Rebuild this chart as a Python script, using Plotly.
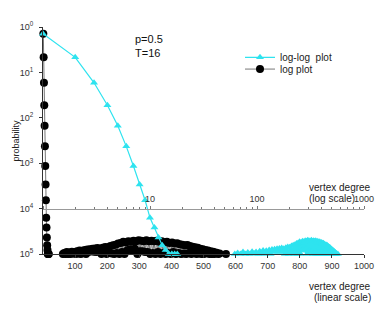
import plotly.graph_objects as go

# ---- data ----
degree_head = [1, 2, 3, 4, 5, 6, 7, 8, 9, 10, 11, 12, 13, 14, 15, 16, 17, 18]
prob_head = [0.706, 0.215, 0.0591, 0.01887, 0.00666, 0.002348, 0.00087, 0.000339,
             0.000153, 0.0000627, 0.0000382, 0.0000232, 0.0000156, 0.0000122,
             0.00001, 0.00001, 0.00001, 0.00001]

degree_tail = list(range(62, 551, 4)) + [570]
# probabilities in units of 1e-5
prob_tail_e5 = [
    1.0, 1.05, 1.0, 1.1, 1.0, 1.08, 1.0, 1.12, 1.02, 1.1,
    1.0, 1.15, 1.02, 1.2, 1.0, 1.18, 1.05, 1.22, 1.0, 1.25,
    1.1, 1.28, 1.15, 1.3, 1.12, 1.32, 1.1, 1.35, 1.15, 1.3,
    1.0, 1.38, 1.05, 1.42, 1.0, 1.4, 1.08, 1.5, 1.02, 1.55,
    1.0, 1.6, 1.05, 1.7, 1.0, 1.75, 1.1, 1.85, 1.0, 1.8,
    1.2, 1.9, 1.25, 1.85, 1.2, 1.95, 1.3, 1.9, 1.0, 2.0,
    1.15, 1.95, 1.15, 1.9, 1.1, 2.0, 1.1, 1.92, 1.0, 1.95,
    1.05, 1.9, 1.0, 1.95, 1.1, 1.85, 1.0, 1.9, 1.05, 1.8,
    1.0, 1.85, 1.05, 1.75, 1.0, 1.8, 1.1, 1.7, 1.0, 1.72,
    1.05, 1.65, 1.0, 1.6, 1.02, 1.55, 1.0, 1.58, 1.05, 1.5,
    1.0, 1.45, 1.05, 1.4, 1.0, 1.38, 1.02, 1.3, 1.0, 1.28,
    1.0, 1.22, 1.05, 1.2, 1.0, 1.15, 1.0, 1.12, 1.0, 1.08,
    1.05, 1.0, 1.03,
    1.0,
]

y_ticks = [1, 1e-1, 1e-2, 1e-3, 1e-4, 1e-5]
y_ticktext = ["10<sup>0</sup>", "10<sup>1</sup>", "10<sup>2</sup>",
              "10<sup>3</sup>", "10<sup>4</sup>", "10<sup>5</sup>"]
lin_ticks = [100, 200, 300, 400, 500, 600, 700, 800, 900, 1000]
log_ticks = [1, 10, 100, 1000]
log_ticktext = ["", "10", "100", "1000"]
log_minor = [2, 3, 4, 5, 6, 7, 8, 9, 20, 30, 40, 50, 60, 70, 80, 90,
             200, 300, 400, 500, 600, 700, 800, 900]

xs = degree_head + [None] + degree_tail
ys = prob_head + [None] + [v * 1e-5 for v in prob_tail_e5]

CYAN = "#2EE3EF"
FONT = "Arial, Liberation Sans, sans-serif"

fig = go.Figure()
fig.add_trace(go.Scatter(
    x=xs, y=ys, xaxis="x2", yaxis="y", mode="lines+markers",
    name="log-log  plot", legend="legend",
    line=dict(color=CYAN, width=1.2),
    marker=dict(symbol="triangle-up", size=7, color=CYAN),
    cliponaxis=False,
))
fig.add_trace(go.Scatter(
    x=xs, y=ys, xaxis="x", yaxis="y", mode="lines+markers",
    name="log plot", legend="legend2",
    line=dict(color="#777777", width=1),
    marker=dict(symbol="circle", size=8, color="#000000"),
    cliponaxis=False,
))

# the page body has an 8px default margin, so the figure is a bit smaller
OFF = 8
W, H = 390 - OFF, 311 - OFF
L, R, T, B = 43 - OFF, 26, 22 - OFF, 57
# plot area in page pixels
X0, X1 = 43, 364
Y0, Y1 = 22, 254


def px(xp):
    return (xp - X0) / (X1 - X0)


def py(yp):
    return (Y1 - yp) / (Y1 - Y0)


ann_font = dict(family=FONT, size=10, color="#222")
annotations = [
    dict(text="p=0.5", x=px(133), y=py(34), xanchor="left", yanchor="middle",
         font=dict(family=FONT, size=11, color="#111")),
    dict(text="T=16", x=px(133), y=py(49), xanchor="left", yanchor="middle",
         font=dict(family=FONT, size=11, color="#111")),
    dict(text="vertex degree", x=px(307), y=py(186), xanchor="left", yanchor="middle",
         font=ann_font),
    dict(text="(log scale)", x=px(307), y=py(197), xanchor="left", yanchor="middle",
         font=ann_font),
    dict(text="vertex degree", x=px(373), y=py(287), xanchor="right", yanchor="middle",
         font=ann_font),
    dict(text="(linear scale)", x=px(373), y=py(298), xanchor="right", yanchor="middle",
         font=ann_font),
    dict(text="probability", x=px(9), y=py(138), xanchor="left", yanchor="middle",
         textangle=-90, borderpad=0, font=dict(family=FONT, size=9, color="#222")),
]
for a in annotations:
    a.update(xref="paper", yref="paper", showarrow=False)

tickfont = dict(family=FONT, size=9, color="#333")

fig.update_layout(
    width=W, height=H,
    margin=dict(l=L, r=R, t=T, b=B),
    paper_bgcolor="white", plot_bgcolor="white",
    font=dict(family=FONT, size=10, color="#222"),
    annotations=annotations,
    xaxis=dict(range=[0, 1000], tickvals=lin_ticks, ticks="outside", ticklen=3,
               tickcolor="#333", showline=True, linecolor="#333", linewidth=1,
               showgrid=False, zeroline=False, tickfont=tickfont, anchor="y"),
    xaxis2=dict(type="log", range=[0, 3], overlaying="x", side="top",
                anchor="free", position=0.2, tickvals=log_ticks,
                ticktext=log_ticktext, ticks="outside", ticklen=3,
                tickcolor="#777", showline=True, linecolor="#999", linewidth=1,
                showgrid=False, zeroline=False, tickfont=tickfont,
                minor=dict(tickvals=log_minor, ticks="outside", ticklen=2,
                           tickcolor="#777", showgrid=False)),
    yaxis=dict(type="log", range=[-5, 0], tickvals=y_ticks, ticktext=y_ticktext,
               ticks="outside", ticklen=3, tickcolor="#333", showline=True,
               linecolor="#333", linewidth=1, showgrid=False, zeroline=False,
               tickfont=tickfont, ticklabelstandoff=4),
    legend=dict(x=px(240), y=py(53), xanchor="left", yanchor="middle",
                bgcolor="rgba(0,0,0,0)", font=dict(family=FONT, size=10, color="#222")),
    legend2=dict(x=px(240), y=py(65), xanchor="left", yanchor="middle",
                 bgcolor="rgba(0,0,0,0)", font=dict(family=FONT, size=10, color="#222")),
    showlegend=True,
)

fig.write_html("out.html")
